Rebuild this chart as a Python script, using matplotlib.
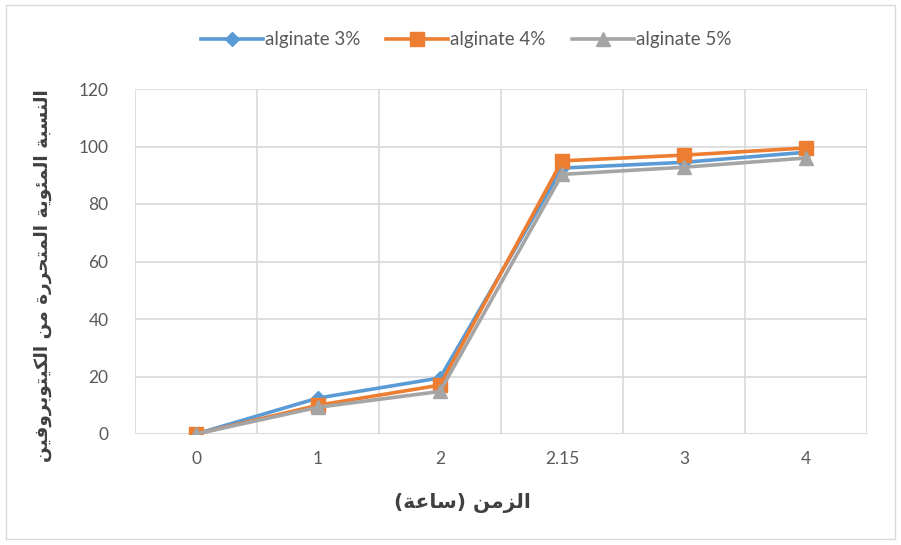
import matplotlib
matplotlib.use("Agg")
import matplotlib.pyplot as plt
from matplotlib.lines import Line2D

# ---- data ----
time_labels = ["0", "1", "2", "2.15", "3", "4"]
alginate_3 = [0, 12.5, 19.5, 92.5, 94.5, 98]
alginate_4 = [0, 10, 17, 95, 97, 99.5]
alginate_5 = [0, 9.3, 14.8, 90.3, 92.8, 96]
series_names = ["alginate 3%", "alginate 4%", "alginate 5%"]

x_title = "الزمن (ساعة)"
y_title = "النسبة المئوية المتحررة من الكيتوبروفين"

# ---- minimal Arabic shaping (contextual forms + RTL order) ----
# letter: (isolated, final, initial, medial); two-form letters only join to the right
FORMS = {
    "ا": ("\uFE8D", "\uFE8E", None, None),
    "ب": ("\uFE8F", "\uFE90", "\uFE91", "\uFE92"),
    "ة": ("\uFE93", "\uFE94", None, None),
    "ت": ("\uFE95", "\uFE96", "\uFE97", "\uFE98"),
    "ح": ("\uFEA1", "\uFEA2", "\uFEA3", "\uFEA4"),
    "ر": ("\uFEAD", "\uFEAE", None, None),
    "ز": ("\uFEAF", "\uFEB0", None, None),
    "س": ("\uFEB1", "\uFEB2", "\uFEB3", "\uFEB4"),
    "ع": ("\uFEC9", "\uFECA", "\uFECB", "\uFECC"),
    "ف": ("\uFED1", "\uFED2", "\uFED3", "\uFED4"),
    "ك": ("\uFED9", "\uFEDA", "\uFEDB", "\uFEDC"),
    "ل": ("\uFEDD", "\uFEDE", "\uFEDF", "\uFEE0"),
    "م": ("\uFEE1", "\uFEE2", "\uFEE3", "\uFEE4"),
    "ن": ("\uFEE5", "\uFEE6", "\uFEE7", "\uFEE8"),
    "و": ("\uFEED", "\uFEEE", None, None),
    "ي": ("\uFEF1", "\uFEF2", "\uFEF3", "\uFEF4"),
    "ئ": ("\uFE89", "\uFE8A", "\uFE8B", "\uFE8C"),
}
MIRROR = {"(": ")", ")": "("}


def dual(ch):
    return ch in FORMS and FORMS[ch][2] is not None


def shape_rtl(text):
    out = []
    for i, ch in enumerate(text):
        if ch not in FORMS:
            out.append(ch)
            continue
        prev = text[i - 1] if i > 0 else ""
        nxt = text[i + 1] if i + 1 < len(text) else ""
        join_prev = dual(prev)
        join_next = dual(ch) and nxt in FORMS
        iso, fin, ini, med = FORMS[ch]
        if join_prev and join_next:
            out.append(med)
        elif join_prev:
            out.append(fin)
        elif join_next:
            out.append(ini)
        else:
            out.append(iso)
    return "".join(MIRROR.get(c, c) for c in reversed(out))


# ---- figure ----
W, H = 901, 545
fig = plt.figure(figsize=(W / 100, H / 100), dpi=100)
fig.patch.set_facecolor("white")

# light chart border
fig.add_artist(plt.Rectangle((6 / W, 6 / H), 889 / W, 534 / H, transform=fig.transFigure,
                             fill=False, edgecolor="#D9D9D9", linewidth=1))

left, right, top, bottom = 135, 867, 89, 434
ax = fig.add_axes([left / W, 1 - bottom / H, (right - left) / W, (bottom - top) / H])

colors = ["#5B9BD5", "#ED7D31", "#A5A5A5"]
markers = ["D", "s", "^"]
msizes = [7.5, 10.5, 10.5]
xs = list(range(len(time_labels)))
for vals, c, m, ms, name in zip([alginate_3, alginate_4, alginate_5], colors, markers, msizes, series_names):
    ax.plot(xs, vals, color=c, lw=2.6, marker=m, markersize=ms, markerfacecolor=c,
            markeredgecolor=c, label=name, solid_capstyle="round", zorder=3)

ax.set_xlim(-0.5, len(time_labels) - 0.5)
ax.set_ylim(0, 120)
ax.set_yticks(range(0, 121, 20))
ax.set_xticks(xs)
ax.set_xticklabels(time_labels)

# gridlines: horizontal at ticks, vertical at category boundaries
ax.grid(axis="y", color="#D9D9D9", lw=1.2, zorder=0)
for b in [i - 0.5 for i in range(len(time_labels) + 1)]:
    ax.axvline(b, color="#D9D9D9", lw=1.2, zorder=0)
for s in ax.spines.values():
    s.set_visible(False)
ax.axhline(0, color="#D9D9D9", lw=1.2, zorder=1)

ax.tick_params(length=0, labelsize=12.5, labelcolor="#595959")
ax.tick_params(axis="y", pad=19)
ax.tick_params(axis="x", pad=12)
for lab in ax.get_xticklabels() + ax.get_yticklabels():
    lab.set_fontfamily("Lato")

ax.set_xlabel(shape_rtl(x_title), fontsize=14.5, fontweight="bold", color="#404040",
              family=["DejaVu Sans"])
ax.xaxis.set_label_coords((462 - left) / (right - left), (bottom - 503) / (bottom - top))
ax.xaxis.label.set_va("center")
ax.set_ylabel(shape_rtl(y_title), fontsize=13.3, fontweight="bold", color="#404040",
              family=["DejaVu Sans"])
ax.yaxis.set_label_coords((43 - left) / (right - left), (bottom - 276) / (bottom - top))
ax.yaxis.label.set_va("center")

handles = [Line2D([0], [0], color=c, lw=2.6, marker=m, markersize=ms, markerfacecolor=c,
                  markeredgecolor=c) for c, m, ms in zip(colors, markers, msizes)]
fig.legend(handles, series_names, loc="center", bbox_to_anchor=(466 / W, 1 - 40 / H), ncol=3,
           frameon=False, prop={"family": "Lato", "size": 13.5}, labelcolor="#595959",
           handlelength=3.3, handletextpad=0.1, columnspacing=1.4)

fig.savefig("out.png", dpi=100, facecolor="white")
